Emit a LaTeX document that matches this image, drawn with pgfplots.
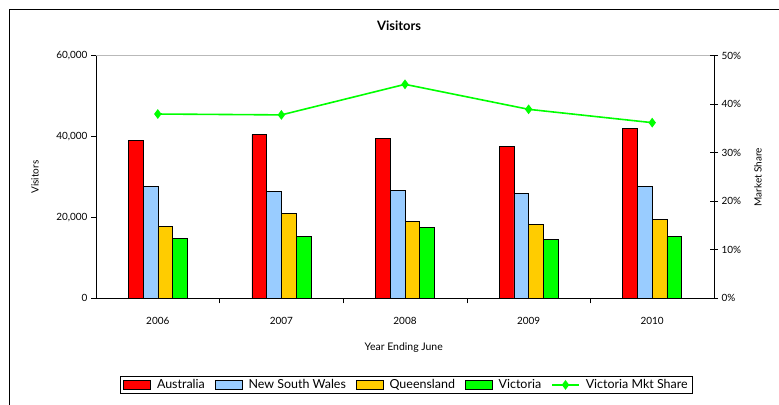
\documentclass[border=0pt]{standalone}
\usepackage{fontspec}
\setmainfont{Lato}
\usepackage{pgfplots}
\pgfplotsset{compat=1.18}
\definecolor{cAus}{RGB}{255,0,0}
\definecolor{cNSW}{RGB}{153,204,255}
\definecolor{cQld}{RGB}{255,204,0}
\definecolor{cVic}{RGB}{0,255,0}
\definecolor{gridgray}{RGB}{185,185,185}
\pgfplotsset{
  mkt legend/.style={legend image code/.code={\draw[##1, mark repeat=2, mark phase=2] plot coordinates {(0bp,0bp) (13.5bp,0bp) (27bp,0bp)}; \path (31bp,0bp);}},
  box legend/.style={legend image code/.code={\draw[fill=#1,draw=black,line width=0.6bp] (0bp,-4.5bp) rectangle (27bp,4.5bp); \path (31bp,0bp);}},
}

\begin{document}
\begin{tikzpicture}
\path[use as bounding box] (0bp,0bp) rectangle (779bp,405bp);
\draw[black, line width=1bp] (9bp,0bp) -- (9bp,395bp) -- (779bp,395bp);
\draw[gridgray, line width=1bp] (96bp,349.3bp) -- (714bp,349.3bp);
\begin{axis}[
  at={(96bp,106.7bp)}, anchor=south west,
  scale only axis, width=618bp, height=242.6bp,
  xmin=-0.5, xmax=4.5, ymin=0, ymax=60000,
  axis x line*=bottom, axis y line*=left,
  axis line style={black, line width=0.8bp, -},
  ytick={0,20000,40000,60000},
  scaled y ticks=false,
  /pgf/number format/.cd, 1000 sep={,}, assume math mode=true, /pgfplots/.cd,
  xtick={0.5,1.5,2.5,3.5}, xticklabels={},
  extra x ticks={0,1,2,3,4},
  extra x tick labels={2006,2007,2008,2009,2010},
  extra x tick style={major tick length=0pt, tick label style={yshift=-15bp}},
  tick align=outside, major tick length=5bp,
  tick style={black, line width=0.6bp},
  ticklabel style={font=\fontsize{10}{11}\selectfont},
  ylabel={Visitors},
  ylabel style={at={(axis description cs:-0.0987,0.5)}, anchor=center, rotate=0, font=\fontsize{10}{11}\selectfont},
  xlabel={Year Ending June},
  xlabel style={at={(axis description cs:0.498,-0.205)}, anchor=center, font=\fontsize{10.5}{12}\selectfont},
  title={\textbf{Visitors}},
  title style={at={(axis description cs:0.4903,1.099)}, anchor=center, yshift=0pt, font=\fontsize{13}{14}\selectfont},
  clip=false,
]
\addplot[ybar, bar width=0.119, bar shift=-0.1785, fill=cAus, draw=black, line width=0.6bp]
  coordinates {(0,39150) (1,40460) (2,39640) (3,37490) (4,42040)};
\addplot[ybar, bar width=0.119, bar shift=-0.0595, fill=cNSW, draw=black, line width=0.6bp]
  coordinates {(0,27600) (1,26360) (2,26610) (3,25870) (4,27770)};
\addplot[ybar, bar width=0.119, bar shift=0.0595, fill=cQld, draw=black, line width=0.6bp]
  coordinates {(0,17800) (1,20920) (2,18950) (3,18200) (4,19540)};
\addplot[ybar, bar width=0.119, bar shift=0.1785, fill=cVic, draw=black, line width=0.6bp]
  coordinates {(0,14740) (1,15330) (2,17460) (3,14590) (4,15230)};
\end{axis}
\begin{axis}[
  at={(96bp,106.7bp)}, anchor=south west,
  scale only axis, width=618bp, height=242.6bp,
  xmin=-0.5, xmax=4.5, ymin=0, ymax=50,
  axis y line*=right, axis x line=none,
  axis line style={black, line width=0.8bp, -},
  ytick={0,10,20,30,40,50},
  yticklabel={\pgfmathprintnumber{\tick}\%},
  /pgf/number format/assume math mode=true,
  tick align=center, major tick length=8bp,
  tick style={black, line width=0.6bp},
  ticklabel style={font=\fontsize{10}{11}\selectfont},
  ylabel={Market Share},
  ylabel style={at={(axis description cs:1.071,0.5)}, anchor=center, rotate=0, font=\fontsize{10}{11}\selectfont},
  legend columns=5,
  legend style={at={(axis description cs:0.5024,-0.357)}, anchor=center,
    draw=black, line width=0.8bp, font=\fontsize{12.5}{13}\selectfont,
    inner xsep=3bp, inner ysep=1bp,
    /tikz/every even column/.append style={column sep=8bp}},
  clip=false,
]
\addlegendimage{box legend=cAus}
\addlegendentry{Australia}
\addlegendimage{box legend=cNSW}
\addlegendentry{New South Wales}
\addlegendimage{box legend=cQld}
\addlegendentry{Queensland}
\addlegendimage{box legend=cVic}
\addlegendentry{Victoria}
\addplot[cVic, line width=1.6bp, mark=diamond*, mark size=3.6bp, mark options={fill=cVic, draw=cVic}, mkt legend]
  coordinates {(0,37.98) (1,37.8) (2,44.1) (3,38.95) (4,36.2)};
\addlegendentry{Victoria Mkt Share}
\end{axis}
\end{tikzpicture}
\end{document}
